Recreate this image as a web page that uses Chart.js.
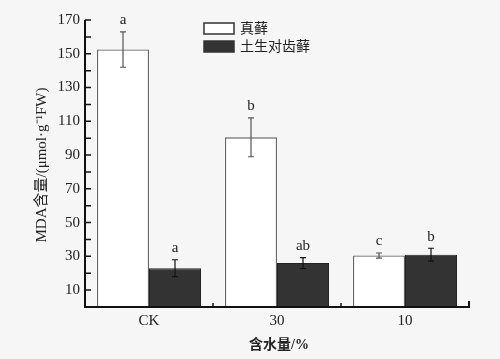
<!DOCTYPE html>
<html><head><meta charset="utf-8">
<script src="https://cdn.jsdelivr.net/npm/chart.js@4/dist/chart.umd.min.js"></script>
<style>html,body{margin:0;padding:0;background:#f6f6f6;}#wrap{width:500px;height:359px;}</style>
</head><body><div id="wrap"><canvas id="c" width="500" height="359"></canvas></div>
<script>
const categories = ["CK", "30", "10"];
const seriesNames = ["真藓", "土生对齿藓"];
const zhenxian = [152.5, 100.5, 30.5];
const zhenxianErr = [10.5, 11.5, 1.5];
const tusheng = [23, 26, 31];
const tushengErr = [5, 3.2, 3.8];
const zhenxianLetters = ["a", "b", "c"];
const tushengLetters = ["a", "ab", "b"];
const yTickLabels = [10, 30, 50, 70, 90, 110, 130, 150, 170];

const SERIF = '"Liberation Serif", "Noto Sans CJK SC", serif';
const CJK = '"Liberation Serif", "Noto Sans CJK SC", serif';

const deco = {
  id: 'deco',
  afterDatasetsDraw(chart) {
    const ctx = chart.ctx;
    const xs = chart.scales.x, ys = chart.scales.y;
    const ca = chart.chartArea;
    ctx.save();
    const errs = [zhenxianErr, tushengErr];
    const letters = [zhenxianLetters, tushengLetters];
    chart.data.datasets.forEach((ds, di) => {
      const meta = chart.getDatasetMeta(di);
      meta.data.forEach((bar, i) => {
        const v = ds.data[i], e = errs[di][i];
        const x = bar.x;
        const yt = ys.getPixelForValue(v + e), yb = ys.getPixelForValue(v - e);
        ctx.strokeStyle = di === 0 ? '#555' : '#111';
        ctx.lineWidth = 1.2;
        ctx.beginPath();
        ctx.moveTo(x, yt); ctx.lineTo(x, yb);
        ctx.moveTo(x - 3, yt); ctx.lineTo(x + 3, yt);
        ctx.moveTo(x - 3, yb); ctx.lineTo(x + 3, yb);
        ctx.stroke();
        ctx.fillStyle = '#222';
        ctx.font = '15px ' + SERIF;
        ctx.textAlign = 'center';
        ctx.textBaseline = 'bottom';
        ctx.fillText(letters[di][i], x, yt - 4);
      });
    });
    ctx.strokeStyle = '#111';
    ctx.lineWidth = 2;
    ctx.beginPath();
    ctx.moveTo(ca.left, ys.getPixelForValue(170));
    ctx.lineTo(ca.left, ca.bottom);
    ctx.lineTo(ca.right, ca.bottom);
    ctx.lineTo(ca.right, ca.bottom - 6);
    ctx.stroke();
    ctx.lineWidth = 1.5;
    ctx.beginPath();
    for (let v = 10; v <= 170; v += 10) {
      const y = ys.getPixelForValue(v);
      ctx.moveTo(ca.left, y); ctx.lineTo(ca.left + 6, y);
    }
    for (let i = 0; i < categories.length - 1; i++) {
      const xsep = (xs.getPixelForValue(i) + xs.getPixelForValue(i + 1)) / 2;
      ctx.moveTo(xsep, ca.bottom); ctx.lineTo(xsep, ca.bottom - 4);
    }
    ctx.stroke();
    ctx.fillStyle = '#222';
    ctx.font = '15px ' + SERIF;
    ctx.textAlign = 'right';
    ctx.textBaseline = 'middle';
    yTickLabels.forEach(v => ctx.fillText(String(v), ca.left - 5, ys.getPixelForValue(v)));
    ctx.textAlign = 'center';
    ctx.textBaseline = 'top';
    categories.forEach((c, i) => ctx.fillText(c, xs.getPixelForValue(i), ca.bottom + 7));
    ctx.font = 'bold 14px ' + CJK;
    ctx.fillText('含水量/%', (ca.left + ca.right) / 2 + 2, ca.bottom + 31);
    ctx.save();
    ctx.translate(42, 165);
    ctx.rotate(-Math.PI / 2);
    ctx.font = '15px ' + CJK;
    ctx.textBaseline = 'middle';
    ctx.textAlign = 'center';
    ctx.fillText('MDA含量/(μmol·g⁻¹FW)', 0, 0);
    ctx.restore();
    const lx = 204, ly = [23, 41];
    chart.data.datasets.forEach((ds, di) => {
      ctx.fillStyle = ds.backgroundColor;
      ctx.fillRect(lx, ly[di], 30, 11);
      ctx.strokeStyle = '#333';
      ctx.lineWidth = 1.5;
      ctx.strokeRect(lx, ly[di], 30, 11);
      ctx.fillStyle = '#222';
      ctx.font = '14px ' + CJK;
      ctx.textAlign = 'left';
      ctx.textBaseline = 'middle';
      ctx.fillText(seriesNames[di], lx + 36, ly[di] + 6);
    });
    ctx.restore();
  }
};

new Chart(document.getElementById('c'), {
  type: 'bar',
  data: {
    labels: categories,
    datasets: [
      { label: seriesNames[0], data: zhenxian, backgroundColor: '#ffffff', borderColor: '#666', borderWidth: 1.3 },
      { label: seriesNames[1], data: tusheng, backgroundColor: '#333333', borderColor: '#222', borderWidth: 1 }
    ]
  },
  plugins: [deco],
  options: {
    responsive: false,
    animation: false,
    devicePixelRatio: 1,
    layout: { padding: { top: 20, right: 31, left: 0, bottom: 0 } },
    categoryPercentage: 0.8125,
    barPercentage: 1.0,
    plugins: { legend: { display: false }, tooltip: { enabled: false } },
    scales: {
      x: {
        grid: { display: false, drawTicks: false },
        border: { display: false },
        ticks: { display: false },
        afterFit: s => { s.height = 52; }
      },
      y: {
        min: 0, max: 170,
        grid: { display: false, drawTicks: false },
        border: { display: false },
        ticks: { display: false, stepSize: 10 },
        afterFit: s => { s.width = 85; }
      }
    }
  }
});
</script></body></html>
